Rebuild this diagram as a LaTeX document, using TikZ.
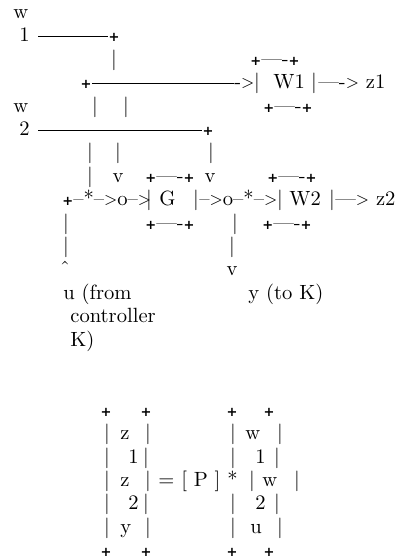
\documentclass[tikz,border=0pt]{standalone}
\usepackage{fontspec}
\usepackage{tikz}
\usetikzlibrary{positioning}
\newfontfamily\plusfont{DejaVu Sans}
\newcommand\pl{{\plusfont\bfseries\fontsize{6.5}{6.5}\selectfont +}}
\newcommand\gt{\raisebox{0.6pt}{\fontsize{8}{8}\selectfont >}}
\def\dh{2.6pt}

\begin{document}
\begin{tikzpicture}[x=0.5pt,y=-11.7pt,
  every node/.style={inner sep=0pt, font=\fontsize{10.3}{12}\selectfont},
  txt/.style={anchor=base west},
  ctr/.style={anchor=base},
  wire/.style={line width=0.45pt}]
  \useasboundingbox (0,0.205) rectangle (401,24.14);
  %% inputs w1 and w2
  \node[txt] (w1a) at (13,1) {w};
  \node[txt] (w1b) at (19,2) {1};
  \node[ctr] (j1) at (114,2) {\pl};
  \draw[wire] ([xshift=4pt,yshift=\dh]w1b.base east) -- ([yshift=\dh]j1.base west);
  \node[ctr] (j2) at (86,4) {\pl};
  \node[txt] (w1in) at (234,4) {-\gt};
  \draw[wire] ([yshift=\dh]j2.base east) -- ([yshift=\dh]w1in.base west);
  \node[ctr] (w1l) at (257,4) {|};
  \node[txt] (W1) at (273,4) {W1};
  \node[ctr] (w1r) at (314,4) {|};
  \node[txt] (z1) at (318,4) {----\gt\ z1};
  \node[txt] (w2a) at (13,5) {w};
  \node[txt] (w2b) at (19,6) {2};
  \node[ctr] (j3) at (208,6) {\pl};
  \draw[wire] ([xshift=4pt,yshift=\dh]w2b.base east) -- ([yshift=\dh]j3.base west);
  %% vertical bars
  \foreach \x/\k in {114/3,95/5,126/5,90/7,118/7,211/7,90/8,66/10,235/10,66/11,232/11}{
    \node[ctr] (bar-\x-\k) at (\x,\k) {|};
  }
  %% box borders
  \foreach \x/\k in {250/3,263/5,145/8,267/8,145/10,262/10}{
    \node[txt] (edge-\x-\k) at (\x,\k) {\pl----\pl};
  }
  \node[ctr] (v1) at (118,8) {v};
  \node[ctr] (v2) at (210,8) {v};
  %% main loop through G and W2
  \node[txt] (loop1) at (62,9) {\pl--*--\gt o--\gt};
  \node[ctr] (gl) at (149,9) {|};
  \node[txt] (G) at (159,9) {G};
  \node[ctr] (gr) at (196,9) {|};
  \node[txt] (loop2) at (199,9) {--\gt o--*--\gt};
  \node[ctr] (w2l) at (280,9) {|};
  \node[txt] (W2) at (289,9) {W2};
  \node[ctr] (w2r) at (332,9) {|};
  \node[txt] (z2) at (335,9) {---\gt\ z2};
  \node[ctr] (uarr) at (65,12) {ˆ};
  \node[ctr] (yarr) at (232,12) {v};
  \node[txt] (u1) at (63,13) {u (from};
  \node[txt] (u2) at (70,14) {controller};
  \node[txt] (u3) at (70,15) {K)};
  \node[txt] (y1) at (248,13) {y (to K)};
  %% matrix equation
  \foreach \x in {106,146,232,269}{
    \node[ctr] (top-\x) at (\x,18) {\pl};
    \node[ctr] (bot-\x) at (\x,24) {\pl};
  }
  \foreach \k/\a/\b in {19/107/148,20/107/146,21/107/148,22/107/146,23/107/148,
                         19/233/280,20/233/277,21/252/297,22/233/277,23/233/280}{
    \node[ctr] (l-\a-\k) at (\a,\k) {|};
    \node[ctr] (r-\b-\k) at (\b,\k) {|};
  }
  \foreach \t/\x/\k in {z/120/19,1/128/20,z/120/21,2/128/22,y/120/23,
                         w/245/19,1/255/20,w/262/21,2/255/22,u/250/23}{
    \node[txt] (e-\x-\k) at (\x,\k) {\t};
  }
  \node[txt] (eq) at (158,21) {=\ [\ P\ ]\ *};
\end{tikzpicture}
\end{document}
